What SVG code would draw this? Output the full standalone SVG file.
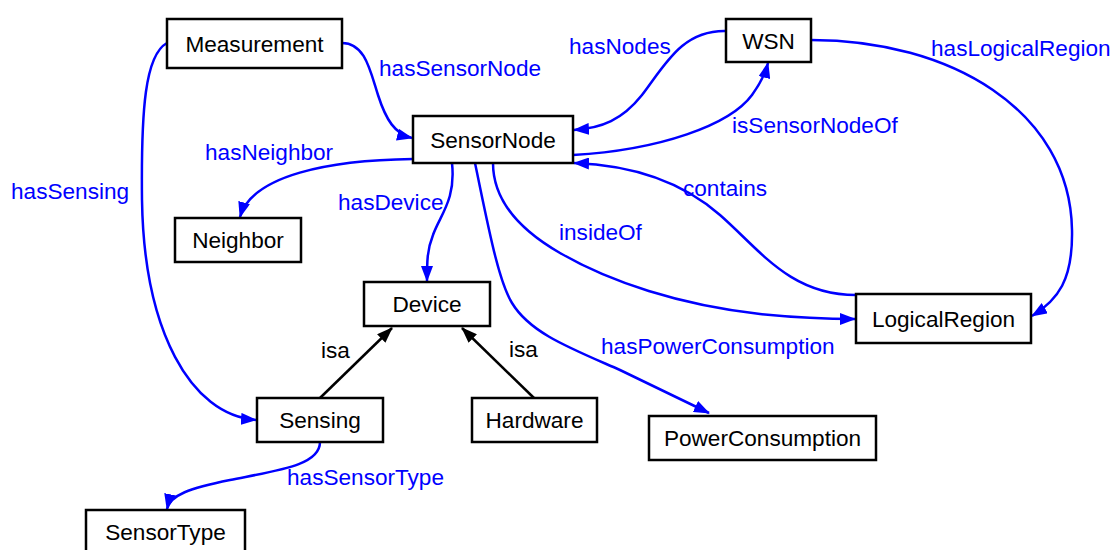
<svg xmlns="http://www.w3.org/2000/svg" width="1112" height="550" viewBox="0 0 1112 550">
  <style>
    .box rect { fill: #ffffff; stroke: #000000; stroke-width: 2.5; }
    .box text { font-family: "Liberation Sans", Arial, sans-serif; font-size: 22.6px; fill: #000000; text-anchor: middle; }
    .rel { fill: none; stroke: #0000ff; stroke-width: 2.5; marker-end: url(#arrowBlue); }
    .isa { fill: none; stroke: #000000; stroke-width: 2.5; marker-end: url(#arrowBlack); }
    .lbl { font-family: "Liberation Sans", Arial, sans-serif; font-size: 22.6px; fill: #0000ff; }
    .lbl.black { fill: #000000; }
  </style>
  <defs>
    <marker id="arrowBlue" markerUnits="userSpaceOnUse" markerWidth="16" markerHeight="12" refX="15" refY="6" orient="auto">
      <path d="M0,0 L16,6 L0,12 z" fill="#0000ff"/>
    </marker>
    <marker id="arrowBlack" markerUnits="userSpaceOnUse" markerWidth="16" markerHeight="12" refX="15" refY="6" orient="auto">
      <path d="M0,0 L16,6 L0,12 z" fill="#000000"/>
    </marker>
  </defs>
  <rect width="1112" height="550" fill="#ffffff"/>

  <!-- connectors -->
  <g id="connectors">
    <path class="rel" d="M342,43 C365,43 370,70 378,95 C386,120 395,134 412,138"/>
    <path class="rel" d="M413,159 C330,160 252,175 240,217"/>
    <path class="rel" d="M452,163 C456,200 440,215 433,235 C427,250 427,262 427,281"/>
    <path class="rel" d="M167,43 C145,55 141,110 142,200 C144,330 190,415 256,420"/>
    <path class="rel" d="M726,31 C682,30 665,65 642,95 C622,120 602,128 574,130"/>
    <path class="rel" d="M573,155 C660,150 730,125 752,95 C760,84 765,75 768,63"/>
    <path class="rel" d="M811,40 C950,40 1070,110 1072,230 C1073,280 1058,300 1032,316"/>
    <path class="rel" d="M856,295 C790,295 760,250 720,215 C680,180 630,165 574,163"/>
    <path class="rel" d="M493,163 C493,200 520,230 560,253 C610,282 680,305 760,314 C800,318 830,319 855,319"/>
    <path class="rel" d="M475,163 C488,225 498,280 512,303 C530,333 570,348 620,370 L709,413"/>
    <path class="rel" d="M320,442 C320,465 280,470 230,480 C190,488 170,495 167,509"/>
    <line class="isa" x1="320" y1="398" x2="392" y2="328"/>
    <line class="isa" x1="534" y1="398" x2="462" y2="328"/>
  </g>

  <!-- connector labels -->
  <g id="labels">
    <text class="lbl" x="379" y="76">hasSensorNode</text>
    <text class="lbl" x="205" y="160">hasNeighbor</text>
    <text class="lbl" x="569" y="54">hasNodes</text>
    <text class="lbl" x="931" y="56">hasLogicalRegion</text>
    <text class="lbl" x="732" y="133">isSensorNodeOf</text>
    <text class="lbl" x="683" y="196">contains</text>
    <text class="lbl" x="559" y="240">insideOf</text>
    <text class="lbl" x="338" y="210">hasDevice</text>
    <text class="lbl" x="11" y="199">hasSensing</text>
    <text class="lbl" x="601" y="354">hasPowerConsumption</text>
    <text class="lbl" x="287" y="485">hasSensorType</text>
    <text class="lbl black" x="321" y="358">isa</text>
    <text class="lbl black" x="509" y="357">isa</text>
  </g>

  <!-- nodes -->
  <g id="Measurement" class="box"><rect x="167" y="19" width="175" height="49"/><text x="254.5" y="51.5">Measurement</text></g>
  <g id="WSN" class="box"><rect x="726" y="19" width="85" height="43"/><text x="768.5" y="48.5">WSN</text></g>
  <g id="SensorNode" class="box"><rect x="413" y="116" width="160" height="47"/><text x="493" y="147.5">SensorNode</text></g>
  <g id="Neighbor" class="box"><rect x="175" y="218" width="126" height="44"/><text x="238" y="248">Neighbor</text></g>
  <g id="Device" class="box"><rect x="364" y="282" width="126" height="44"/><text x="427" y="312">Device</text></g>
  <g id="LogicalRegion" class="box"><rect x="856" y="294" width="175" height="49"/><text x="943.5" y="326.5">LogicalRegion</text></g>
  <g id="Sensing" class="box"><rect x="257" y="398" width="126" height="44"/><text x="320" y="428">Sensing</text></g>
  <g id="Hardware" class="box"><rect x="472" y="398" width="125" height="44"/><text x="534.5" y="428">Hardware</text></g>
  <g id="PowerConsumption" class="box"><rect x="649" y="416" width="227" height="44"/><text x="762.5" y="446">PowerConsumption</text></g>
  <g id="SensorType" class="box"><rect x="86" y="510" width="159" height="50"/><text x="165.5" y="540">SensorType</text></g>
</svg>
